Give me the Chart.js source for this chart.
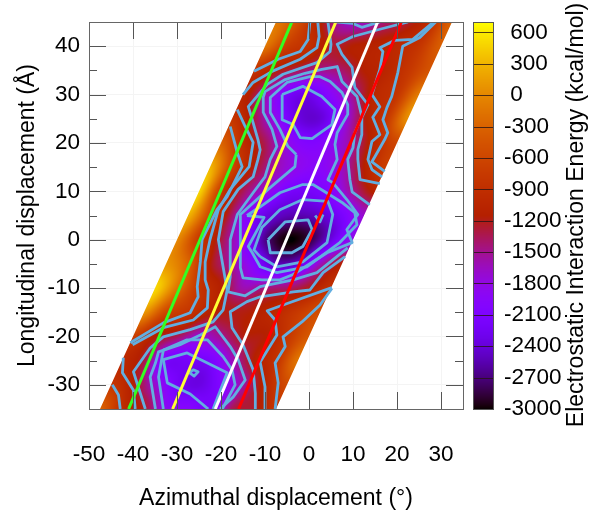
<!DOCTYPE html>
<html>
<head>
<meta charset="utf-8">
<style>
  html, body { margin: 0; padding: 0; background: #fff; }
  #wrap { width: 597px; height: 513px; }
</style>
<script src="https://cdn.jsdelivr.net/npm/chart.js@4/dist/chart.umd.js"></script>
</head>
<body>
<div id="wrap"><canvas id="chart" width="597" height="513"></canvas></div>
<script>
// sheared grid: u = azimuth - 0.5 * longitudinal
const skew = 0.5
const uGrid = [-30, -25, -20, -15, -10, -5, 0, 5, 10]
const yGrid = [45, 40, 35, 30, 25, 20, 15, 10, 5, 0, -5, -10, -15, -20, -25, -30, -35]

// energy (kcal/mol) per row of yGrid, one value per uGrid column
const row45 = [-100, -500, -1100, -1600, -1650, -1400, -1250, -950, -300]
const row40 = [-150, -700, -900, -1250, -1150, -1100, -1000, -820, -350]
const row35 = [-850, -1150, -1350, -1500, -1400, -1150, -1040, -800, -450]
const row30 = [-1050, -1550, -2150, -2300, -1950, -1500, -1020, -800, -100]
const row25 = [-800, -1300, -1850, -2350, -2400, -1900, -1200, -800, 50]
const row20 = [-300, -950, -1350, -1820, -2050, -1900, -1500, -1000, -600]
const row15 = [300, -600, -1200, -1600, -1850, -1950, -1650, -1150, -700]
const row10 = [500, -750, -1350, -1750, -2150, -2200, -2000, -1500, -1100]
const row5 = [300, -600, -1400, -2150, -2450, -2550, -2450, -2150, -1700]
const row0 = [0, -750, -1300, -1900, -2650, -3000, -2850, -2350, -1800]
const rowM5 = [100, -300, -1150, -1550, -2000, -2500, -2400, -1650, -1150]
const rowM10 = [500, -150, -800, -1150, -1600, -1450, -1400, -1200, -850]
const rowM15 = [100, -600, -820, -1120, -1200, -1150, -1000, -750, -500]
const rowM20 = [-700, -1150, -1350, -1700, -1500, -1200, -1150, -800, -400]
const rowM25 = [-1000, -1300, -2150, -2200, -2150, -1650, -1150, -850, -150]
const rowM30 = [-800, -1150, -1700, -2200, -2350, -2050, -1550, -1050, -550]
const rowM35 = [-300, -950, -1230, -1900, -2000, -2150, -1350, -1240, -800]
const energy = [row45, row40, row35, row30, row25, row20, row15, row10, row5, row0,
  rowM5, rowM10, rowM15, rowM20, rowM25, rowM30, rowM35]

// contour lines, [azimuth, longitudinal]
const c850a = [[-12.5,34.8],[-7,37.3],[-2,38.9],[-0.2,41.4],[0.2,45]]
const c850b = [[-17.9,23.4],[-16.3,18],[-15.2,15.1],[-18.6,8.9],[-20.9,6.2],[-24.3,0],[-24.7,-4.6],[-25.4,-9.7],[-25.2,-11.8],[-27,-15.1],[-33.1,-17.2],[-40.6,-21.3]]
const c850c = [[-44.7,-30],[-43.3,-32.1],[-42.9,-35]]
const c850d = [[28.8,45],[25.2,41.8],[21.3,40],[20.2,34.6],[18.8,29.6],[17.7,27.3],[16.8,24.8],[17.9,22.1],[17.2,20.7],[15,17.2],[14.3,16.1],[17.2,14.1]]
const c850e = [[5.2,-10.1],[2.5,-13.5],[-1.6,-17],[-5.9,-20.1],[-5.4,-22.1],[-7.7,-25.5],[-7,-29.6],[-7.7,-35]]
const c1050a = [[-15,30],[-12.7,32.5],[-8.4,34.8],[-2,37.3],[1.8,39.7],[2.3,42],[2,45]]
const c1050b = [[-16.3,26.9],[-14.5,23.4],[-12.7,20.1],[-13.6,15.1],[-17.9,10.4],[-20.6,6.2],[-22.5,0],[-23.6,-4.6],[-23.6,-8.3],[-22.9,-10.4],[-23.1,-14.1],[-26.3,-16.6],[-33.1,-18.2],[-40.1,-21.7]]
const c1050c = [[-42.2,-24.4],[-42.4,-27.5],[-39.9,-31.1],[-39.5,-35]]
const c1050d = [[28.3,45],[23.6,41.4],[19.5,41.2],[16.1,39.7],[16.8,38.9],[16.1,35.2],[14.3,30],[16.1,27.5],[14.5,25.3],[16.1,21.7],[14.3,20.3],[13.4,16.6],[14.3,14.5],[16.6,13]]
const c1050e = [[5.2,-9.9],[-5.9,-13.5],[-9.5,-14.7],[-7.7,-16.6],[-7.3,-19.7],[-11.1,-25.3],[-10,-30.4],[-10,-35]]
const c1250a = [[22.5,45],[16.1,43.5],[10,42],[6.4,40.4],[7.5,38.3],[9.8,35.6],[10.4,31.5],[13.4,27.9],[12,25.3],[12,21.7],[11.1,18.6],[11.1,16.6],[11.6,12.4],[16.1,11.6]]
const c1250b = [[4.3,45],[5,40.4],[4.8,38.9],[1.8,36.6],[-5.9,34.2],[-9.5,32.1],[-13.8,27.5],[-12.9,24.8],[-11.6,20.7],[-11.1,18.6],[-11.6,16.6],[-12.7,13],[-16.1,10.4],[-19.5,5.8],[-20.6,0],[-18.6,-10.4],[-19.5,-14.5],[-21.8,-17],[-27,-18.6],[-33.1,-20.1],[-36.1,-22.4],[-39.9,-27.3],[-37.2,-35]]
const c1250c = [[8.2,-3.5],[3.2,-6.8],[0.2,-10.4],[-3.6,-10.8],[-11.1,-11.8],[-14.1,-12.8],[-17.9,-14.9],[-17.5,-18.2],[-15,-21.7],[-12.7,-26.9],[-12.2,-31.7],[-12.2,-35]]
const c1500a = [[13.8,7.2],[9.8,9.9],[9.3,12.4],[8.8,16.6],[10,19],[10.4,22.1],[12,25.5],[10.9,29.6],[7.5,32.7],[6.4,35.8],[2.9,35.2],[-0.9,34.4],[-5.4,33.1],[-10,30.6],[-10.4,29.4],[-10.4,26.3],[-8.4,22.8],[-7.3,19.3],[-8.8,16.6],[-10,13],[-12.7,9.7],[-16.3,5.2],[-17.9,0],[-17.9,-7.7],[-18.4,-10.8],[-14.5,-11.6],[-11.1,-9.7],[-3.6,-8.3],[1.8,-6.8],[8.8,-1.7]]
const c1500b = [[-34.9,-35],[-36.1,-28.4],[-34.9,-25.5],[-34.2,-23.2],[-29.3,-21.7],[-24.7,-19.7],[-21.3,-18],[-17.9,-22.1],[-16.1,-24.8],[-14.5,-29],[-17.2,-32.5],[-20.2,-35]]
const c1500c = [[6.4,45],[10,44.7],[12,43.9],[16.1,45]]
const c1800a = [[-2.9,17.6],[-4.8,19.3],[-6.6,22.8],[-8.8,26.3],[-8.8,29.4],[-5,32.5],[0.2,33.7],[2.5,33.7],[4.8,32.7],[7.5,30.4],[8.8,27.9],[8.8,25.9],[6.4,22.1],[5.9,19.7],[6.4,16.6],[4.3,12.4],[5.4,11.8],[8.6,8.3],[11.1,5.2],[8.6,2.1],[9.8,-0.6],[4.1,-2.7],[-3.6,-7.2],[-6.6,-8.3],[-10.7,-8.3],[-15,-7.9],[-15.6,-5.8],[-15.6,0],[-15.6,5.2],[-9.3,10.4],[-3.2,15.1],[-2.9,17.6]]
const c1800b = [[-33.1,-35],[-34.2,-28.4],[-33.1,-22.8],[-27.7,-20.7],[-23.1,-20.7],[-19.5,-24.2],[-17.5,-26.9],[-16.8,-30],[-19.7,-35]]
const c2100a = [[-6.1,30],[-1.4,31.7],[2.9,29.6],[5.9,26.9],[5.2,23.8],[0.7,20.9],[-2,21.1],[-3.6,23.8],[-6.1,24.8],[-6.1,30]]
const c2100b = [[-14.1,5],[-11.1,6.8],[-6.6,9.7],[-1.4,11.4],[0.9,11.4],[3.6,9.9],[7.5,7.7],[10.4,5.6],[10.9,3.1],[7,-0.6],[-0.5,-5.6],[-7.3,-6.8],[-11.1,-5.6],[-12.9,-2.7],[-13.8,-1.4],[-10.2,4.6],[-14.1,5]]
const c2100c = [[-22.9,-35],[-27,-31.9],[-32.2,-29.6],[-33.1,-24.8],[-27.7,-23.4],[-18.6,-27.5],[-21.8,-35]]
const c2400a = [[-11.1,-3.5],[-7.3,-5.6],[-1.4,-4.6],[4.1,-0.6],[5.4,5.2],[4.3,7.9],[-1.4,8.3],[-6.6,6.2],[-10.7,2.5],[-12.5,-2.1],[-11.1,-3.5]]
const c2400b = [[-27.2,-27.5],[-26.3,-26.9],[-25.2,-27.3],[-26.1,-28.2],[-27.2,-27.5]]
const c2400c = [[1.4,5],[2.5,3.7],[3.2,5.2]]
const c2700a = [[-9.3,0],[-5.4,3.7],[-0.2,4.1],[0.7,2.1],[-1.4,-1.4],[-3.9,-2.7],[-8.8,-2.7],[-9.3,0]]
const contours = [c850a, c850b, c850c, c850d, c850e, c1050a, c1050b, c1050c, c1050d, c1050e,
  c1250a, c1250b, c1250c, c1500a, c1500b, c1500c, c1800a, c1800b, c2100a, c2100b, c2100c,
  c2400a, c2400b, c2400c, c2700a]

const lineY = [-35, 45]
const greenX = [-41, -3.9]
const yellowX = [-31, 6.1]
const whiteX = [-21.3, 15.6]
const redX = [-16, 21]

const yMajorTicks = [-30, -20, -10, 0, 10, 20, 30, 40]
const yMinorTicks = [-25, -15, -5, 5, 15, 25, 35]

const font = '"Liberation Sans", Arial, sans-serif'

// gnuplot palette rgbformulae 7,5,15
function palette(v) {
  const g = Math.max(0, Math.min(1, (v + 3000) / 3700))
  return [Math.sqrt(g) * 255, g * g * g * 255, Math.max(0, Math.sin(2 * Math.PI * g)) * 255]
}

// cubic blend of the four nearest nodes, for the smooth pm3d look
function cubic(a, b, c, d, t) {
  return b + 0.5 * t * (c - a + t * (2 * a - 5 * b + 4 * c - d + t * (3 * (b - c) + d - a)))
}

function sampleEnergy(u, y) {
  const nu = uGrid.length, ny = yGrid.length
  const fu = Math.max(0, Math.min(nu - 1.001, (u - uGrid[0]) / 5))
  const fy = Math.max(0, Math.min(ny - 1.001, (yGrid[0] - y) / 5))
  const i = Math.floor(fu), j = Math.floor(fy)
  const rowAt = r => {
    const row = energy[Math.max(0, Math.min(ny - 1, r))]
    return cubic(row[Math.max(0, i - 1)], row[i], row[i + 1], row[Math.min(nu - 1, i + 2)], fu - i)
  }
  return cubic(rowAt(j - 1), rowAt(j), rowAt(j + 1), rowAt(j + 2), fy - j)
}

const gridPoints = []
yGrid.forEach((y, j) => uGrid.forEach((u, i) => {
  gridPoints.push({ x: u + skew * y, y, v: energy[j][i] })
}))

const heatmapPlugin = {
  id: 'heatmap',
  beforeDatasetsDraw(chart) {
    const { ctx, chartArea: a, scales } = chart
    const w = Math.round(a.right - a.left), h = Math.round(a.bottom - a.top)
    const off = document.createElement('canvas')
    off.width = w
    off.height = h
    const octx = off.getContext('2d')
    const img = octx.createImageData(w, h)
    const pxPerDeg = w / (scales.x.max - scales.x.min)
    for (let py = 0; py < h; py++) {
      const y = scales.y.getValueForPixel(a.top + py + 0.5)
      for (let px = 0; px < w; px++) {
        const x = scales.x.getValueForPixel(a.left + px + 0.5)
        const u = x - skew * y
        const edge = Math.min(u - uGrid[0], uGrid[uGrid.length - 1] - u) * pxPerDeg + 0.5
        if (edge <= 0) continue
        const c = palette(sampleEnergy(u, y))
        const o = (py * w + px) * 4
        img.data[o] = c[0]
        img.data[o + 1] = c[1]
        img.data[o + 2] = c[2]
        img.data[o + 3] = Math.min(1, edge) * 255
      }
    }
    octx.putImageData(img, 0, 0)
    ctx.drawImage(off, a.left, a.top)
  }
}

const framePlugin = {
  id: 'frame',
  afterDatasetsDraw(chart) {
    const { ctx, chartArea: a, scales } = chart
    ctx.save()
    ctx.strokeStyle = '#555'
    ctx.lineWidth = 1
    ctx.beginPath()
    const yTick = (v, len) => {
      const p = Math.round(scales.y.getPixelForValue(v)) + 0.5
      ctx.moveTo(a.left, p); ctx.lineTo(a.left + len, p)
      ctx.moveTo(a.right, p); ctx.lineTo(a.right - len, p)
    }
    scales.y.ticks.forEach(t => yTick(t.value, 17))
    yMinorTicks.forEach(v => yTick(v, 8))
    scales.x.ticks.forEach(t => {
      const p = Math.round(scales.x.getPixelForValue(t.value)) + 0.5
      ctx.moveTo(p, a.top); ctx.lineTo(p, a.top + 17)
      ctx.moveTo(p, a.bottom); ctx.lineTo(p, a.bottom - 17)
    })
    ctx.stroke()
    ctx.strokeStyle = '#666'
    ctx.strokeRect(a.left + 0.5, a.top + 0.5, a.right - a.left, a.bottom - a.top)

    // colour box
    const cb = scales.cb
    const bx = a.right + 10, bw = 20
    for (let p = Math.round(a.top); p < a.bottom; p++) {
      const c = palette(cb.getValueForPixel(p + 0.5))
      ctx.fillStyle = `rgb(${c[0]},${c[1]},${c[2]})`
      ctx.fillRect(bx, p, bw, 1)
    }
    ctx.strokeStyle = 'rgba(40,20,20,0.8)'
    ctx.beginPath()
    cb.ticks.forEach(t => {
      const p = Math.round(cb.getPixelForValue(t.value)) + 0.5
      ctx.moveTo(bx, p); ctx.lineTo(bx + bw, p)
    })
    ctx.stroke()
    ctx.strokeStyle = '#555'
    ctx.strokeRect(bx + 0.5, a.top + 0.5, bw, a.bottom - a.top)

    ctx.translate(577, 215)
    ctx.rotate(-Math.PI / 2)
    ctx.fillStyle = '#000'
    ctx.font = '23px ' + font
    ctx.textAlign = 'center'
    ctx.textBaseline = 'middle'
    ctx.fillText('Electrostatic Interaction Energy (kcal/mol)', 0, 0)
    ctx.restore()
  }
}

const straight = (xs, color) => ({
  type: 'scatter', showLine: true, data: xs.map((x, i) => ({ x, y: lineY[i] })),
  borderColor: color, borderWidth: 3, pointRadius: 0, order: 1
})

const noOverflow = s => { s.paddingTop = 0; s.paddingBottom = 0; s.paddingLeft = 0; s.paddingRight = 0 }

new Chart(document.getElementById('chart'), {
  type: 'scatter',
  data: {
    datasets: [
      straight(greenX, '#33ff22'),
      straight(yellowX, '#ffff33'),
      straight(whiteX, '#ffffff'),
      straight(redX, '#ff0000'),
      ...contours.map(line => ({
        type: 'scatter', showLine: true,
        data: line.map(p => ({ x: p[0], y: p[1] })), borderColor: '#62aee0', borderWidth: 2.8,
        borderJoinStyle: 'round', pointRadius: 0, order: 2
      })),
      { label: 'energy', data: gridPoints, pointRadius: 0, showLine: false, order: 3 }
    ]
  },
  options: {
    responsive: false,
    animation: false,
    layout: { padding: { top: 22, left: 0, right: 0, bottom: 0 } },
    plugins: { legend: { display: false }, tooltip: { enabled: false } },
    scales: {
      x: {
        type: 'linear', min: -50, max: 35,
        afterFit: s => { s.height = 104; noOverflow(s) },
        grid: { color: '#f4f4f4', drawTicks: false, tickLength: 0 },
        border: { display: false },
        ticks: { stepSize: 10, includeBounds: false, padding: 32, maxRotation: 0, color: '#000', font: { family: font, size: 22.5 } },
        title: { display: true, text: 'Azimuthal displacement (°)', color: '#000', padding: { top: 0, bottom: 1 }, font: { family: font, size: 23 } }
      },
      y: {
        type: 'linear', min: -35, max: 45,
        afterFit: s => { s.width = 89; noOverflow(s) },
        afterBuildTicks: s => { s.ticks = yMajorTicks.map(value => ({ value })) },
        grid: { color: '#f4f4f4', drawTicks: false, tickLength: 0 },
        border: { display: false },
        ticks: { padding: 9, color: '#000', font: { family: font, size: 22.5 } },
        title: { display: true, text: 'Longitudinal displacement (Å)', color: '#000', padding: { top: 14, bottom: 0 }, font: { family: font, size: 23 } }
      },
      cb: {
        type: 'linear', axis: 'y', position: 'right', min: -3000, max: 700,
        afterFit: s => { s.width = 134; noOverflow(s) },
        grid: { display: false, drawTicks: false, tickLength: 0 },
        border: { display: false },
        ticks: {
          stepSize: 300, includeBounds: false, padding: 41, crossAlign: 'near', color: '#000',
          font: { family: font, size: 22.5 },
          callback: v => (v >= 0 ? '\u00a0' : '') + v
        }
      }
    }
  },
  plugins: [heatmapPlugin, framePlugin]
})
</script>
</body>
</html>
